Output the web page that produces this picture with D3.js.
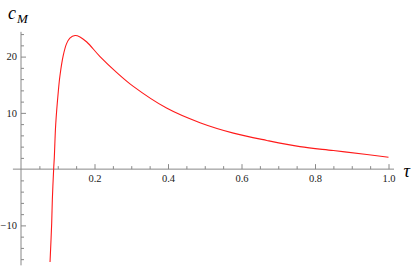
<!DOCTYPE html>
<html>
<head>
<meta charset="utf-8">
<script src="https://cdn.jsdelivr.net/npm/d3@7"></script>
<style>
  html, body { margin: 0; padding: 0; background: #fff; }
  svg { display: block; }
</style>
</head>
<body>
<div id="chart"></div>
<script>
// curve values
const tau = [0.079, 0.0835, 0.0853, 0.089, 0.0906, 0.0944, 0.1015, 0.106, 0.115, 0.124, 0.133, 0.147, 0.1605, 0.179, 0.215, 0.26, 0.3056, 0.396, 0.487, 0.578, 0.669, 0.759, 0.85, 0.941, 1.0];
const cM  = [-16.5, -9.6, -5.4, 0.2, 2.0, 7.9, 13.8, 16.6, 20.2, 22.3, 23.3, 23.75, 23.5, 22.6, 20.0, 17.2, 14.7, 10.85, 8.25, 6.4, 5.1, 4.0, 3.3, 2.6, 2.1];

const xMajor = [0.2, 0.4, 0.6, 0.8, 1.0];
const xMinor = [0.05, 0.1, 0.15, 0.25, 0.3, 0.35, 0.45, 0.5, 0.55, 0.65, 0.7, 0.75, 0.85, 0.9, 0.95];
const yMajor = [-10, 10, 20];
const yMinor = [-16, -14, -12, -8, -6, -4, -2, 2, 4, 6, 8, 12, 14, 16, 18, 22, 24];

const width = 415, height = 267;
const axisColor = '#888';
const serif = '"Liberation Serif", "Times New Roman", serif';

const svg = d3.select('#chart')
  .append('svg')
    .attr('width', width)
    .attr('height', height);

const x = d3.scaleLinear().domain([0, 1]).range([21, 388.5]);
const y = d3.scaleLinear().domain([-10, 20]).range([225.4, 56.6]);

// axis lines (a bit longer than the tick range, like the original)
svg.append('line')
  .attr('x1', x(-0.022)).attr('x2', x(1.015))
  .attr('y1', y(0)).attr('y2', y(0))
  .attr('stroke', axisColor);
svg.append('line')
  .attr('x1', x(0)).attr('x2', x(0))
  .attr('y1', y(-17.1)).attr('y2', y(24.4))
  .attr('stroke', axisColor);

// x axis: ticks point up, labels below
const gx = svg.append('g').attr('transform', `translate(0,${y(0)})`);
gx.append('g')
  .call(d3.axisBottom(x).tickValues(xMajor).tickSizeInner(-5).tickSizeOuter(0).tickPadding(5.5)
    .tickFormat(d3.format('.1f')));
gx.append('g')
  .call(d3.axisBottom(x).tickValues(xMinor).tickSizeInner(-3).tickSizeOuter(0).tickFormat(''));

// y axis: ticks point right, labels left
const gy = svg.append('g').attr('transform', `translate(${x(0)},0)`);
gy.append('g')
  .call(d3.axisLeft(y).tickValues(yMajor).tickSizeInner(-5).tickSizeOuter(0).tickPadding(4)
    .tickFormat(d => d < 0 ? '\u2212' + Math.abs(d) : d));
gy.append('g')
  .call(d3.axisLeft(y).tickValues(yMinor).tickSizeInner(-3).tickSizeOuter(0).tickFormat(''));

svg.selectAll('.domain').remove();
svg.selectAll('g').attr('font-family', serif);
svg.selectAll('.tick line').attr('stroke', axisColor);
svg.selectAll('.tick text')
  .style('font-family', serif)
  .attr('font-size', 10.5)
  .attr('fill', '#222');

// curve
const line = d3.line()
  .x((d, i) => x(tau[i]))
  .y(d => y(d))
  .curve(d3.curveCatmullRom.alpha(0.5));

svg.append('path')
  .datum(cM)
  .attr('d', line)
  .attr('fill', 'none')
  .attr('stroke', '#ff1a1a')
  .attr('stroke-width', 1.1);

// axis labels
const lab = svg.append('text')
  .attr('x', 8).attr('y', 19)
  .style('font-family', serif)
  .attr('font-style', 'italic')
  .attr('font-size', 18)
  .attr('fill', '#000');
lab.append('tspan').text('c');
lab.append('tspan').attr('dy', 3.5).attr('dx', 1).attr('font-size', 13).text('M');

svg.append('text')
  .attr('x', 403.5).attr('y', 177)
  .style('font-family', serif)
  .attr('font-style', 'italic')
  .attr('font-size', 18)
  .attr('fill', '#000')
  .text('\u03c4');
</script>
</body>
</html>
